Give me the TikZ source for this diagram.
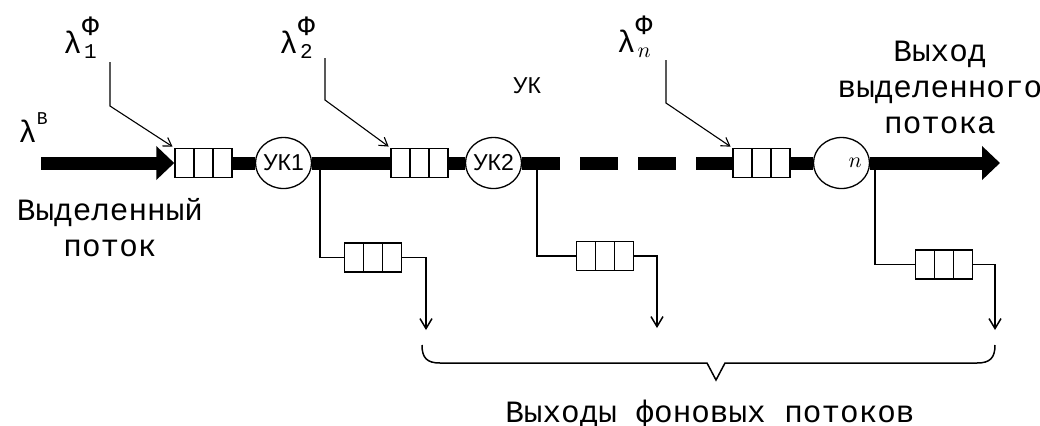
\documentclass[tikz,border=0pt]{standalone}
\usepackage{fontspec}
\setmainfont{Liberation Mono}
\newfontfamily\uksans{Liberation Sans}
\usetikzlibrary{arrows.meta,shapes.geometric}

\newcommand{\lamf}[1]{λ\rlap{\raisebox{9pt}{\fontsize{14}{16}\selectfont Ф}}\kern1pt\raisebox{-2.5pt}{\fontsize{10.5}{12}\selectfont #1}}

\begin{document}
\begin{tikzpicture}[
    x=0.5pt, y=-0.5pt,
    node distance=40pt,
    font=\fontsize{15.5}{18}\selectfont,
    queue/.style={rectangle, draw, line width=0.75pt, fill=white,
                  minimum width=28.5pt, minimum height=14.5pt, inner sep=0pt,
                  path picture={
                    \draw [line width=0.75pt]
                      ([xshift=9.5pt]path picture bounding box.north west) --
                      ([xshift=9.5pt]path picture bounding box.south west)
                      ([xshift=-9.5pt]path picture bounding box.north east) --
                      ([xshift=-9.5pt]path picture bounding box.south east);}},
    hub/.style={ellipse, draw, line width=0.65pt, inner sep=-1pt,
                minimum width=28pt, minimum height=25.5pt,
                font=\uksans\fontsize{11.5}{13}\selectfont},
    flow/.style={line width=6.5pt},
    bigtip/.style={-{Triangle[length=9pt,width=16.5pt]}},
    feed/.style={->, >={Straight Barb[length=4pt,width=5pt]}, line width=0.55pt},
    drain/.style={->, >={Straight Barb[length=5pt,width=6pt]}, line width=0.75pt}
]
\useasboundingbox (0,0) rectangle (1040,425);

% main chain
\node (q1) [queue] at (203.5,163) {};
\node (uk1) [hub, right of=q1] {УК1};
\node (q2) [queue, right of=uk1, xshift=28pt] {};
\node (uk2) [hub, right of=q2, xshift=-3pt] {УК2};
\node (q3) [queue, right of=uk2, xshift=94pt] {};
\node (ukn) [hub, right of=q3,
             label={[anchor=east, inner sep=4pt, font=\fontsize{11}{13}\selectfont]east:$n$}] {};

% background queues
\node (b1) [queue, below of=uk1, xshift=44.75pt, yshift=-7.25pt] {};
\node (b2) [queue, below of=uk2, xshift=55.75pt, yshift=-6.5pt] {};
\node (b3) [queue, below of=ukn, xshift=51.25pt, yshift=-10.75pt] {};

\coordinate (src) at (41,163);
\coordinate (snk) at (1000,163);
\coordinate (t1) at (320,163);
\coordinate (t2) at (537,163);
\coordinate (t3) at (875,163);
\coordinate (o1) at (426,330);
\coordinate (o2) at (657,328);
\coordinate (o3) at (995,330);
\coordinate (f1) at (110,62);
\coordinate (f2) at (325,58);
\coordinate (fn) at (666,60);

\draw [flow, bigtip] (src) -- (q1);
\draw [flow] (q1) -- (uk1);
\draw [flow] (uk1) -- (q2);
\draw [flow] (q2) -- (uk2);
\draw [flow, dash pattern=on 19pt off 10pt] (uk2) -- (q3);
\draw [flow] (q3) -- (ukn);
\draw [flow, bigtip] (ukn) -- (snk);

\draw [line width=0.75pt] (t1) |- (b1.west);
\draw [line width=0.75pt] (t2) |- (b2.west);
\draw [line width=0.75pt] (t3) |- (b3.west);
\draw [drain] (b1.east) -| (o1);
\draw [drain] (b2.east) -| (o2);
\draw [drain] (b3.east) -| (o3);

\draw [feed, shorten >=1pt] (f1) -- ++(0,44) -- (q1.north west);
\draw [feed, shorten >=1pt] (f2) -- ++(0,42) -- (q2.north west);
\draw [feed, shorten >=1pt] (fn) -- ++(0,43) -- (q3.north west);

% labels
\node (lb) at (33,128) {λ\raisebox{9pt}{\fontsize{9}{10}\selectfont В}};
\node (l1) at (80,38) {\lamf{1}};
\node (l2) at (296,38) {\lamf{2}};
\node (ln) at (634,37) {\lamf{$n$}};
\node (uklbl) [font=\uksans\fontsize{11.5}{13}\selectfont] at (527,85.5) {УК};
\node (inlbl) [align=center] at (110,228) {Выделенный\\поток};
\node (outlbl) [align=center] at (940,87) {Выход\\выделенного\\потока};
\node (bglbl) [anchor=base] at (710,422) {Выходы фоновых потоков};

\draw [line width=0.75pt] (422,345) .. controls (422,358) and (427,363) .. (440,363)
    -- (707,363) -- (716,380) -- (725,363) -- (977,363)
    .. controls (990,363) and (995,358) .. (995,345);

\end{tikzpicture}
\end{document}
